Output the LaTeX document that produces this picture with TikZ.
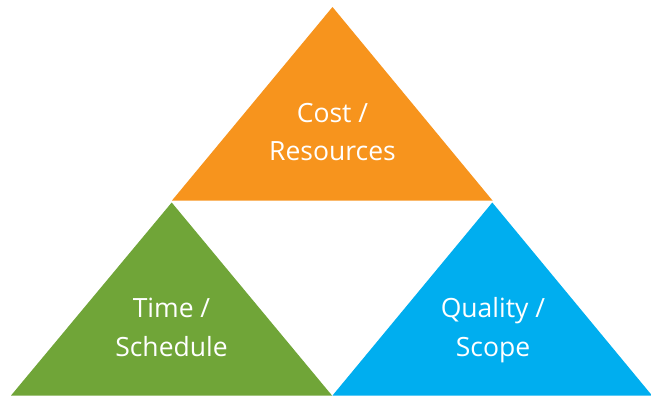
\documentclass[tikz,border=0pt]{standalone}
\usepackage{fontspec}
\setmainfont{Open Sans}
\definecolor{triorange}{RGB}{247,148,29}
\definecolor{trigreen}{RGB}{112,165,56}
\definecolor{triblue}{RGB}{0,174,239}
\tikzset{
  tri/.style={draw=none},
  trilabel/.style={text=white, align=center, inner sep=0pt,
    font=\fontsize{26.5}{38.5}\selectfont}
}
\begin{document}
\begin{tikzpicture}[x=1pt,y=1pt]
\useasboundingbox (0,0) rectangle (651,-397);
\fill[triorange] (172,-200.5) coordinate (o1) -- (492.5,-200.5) coordinate (o2) -- (332.5,-7) coordinate (o3) -- cycle;
\fill[trigreen] (11,-395.5) coordinate (g1) -- (332,-395.5) coordinate (g2) -- (171.7,-202.5) coordinate (g3) -- cycle;
\fill[triblue] (332.5,-395.5) coordinate (b1) -- (652,-395.5) coordinate (b2) -- (492.3,-202.5) coordinate (b3) -- cycle;
\node[trilabel] (cost) at (332.5,-132) {Cost /\\Resources};
\node[trilabel] (time) at (171.5,-327.5) {Time /\\Schedule};
\node[trilabel] (quality) at (493,-330) {Quality /\\Scope};
\end{tikzpicture}
\end{document}
